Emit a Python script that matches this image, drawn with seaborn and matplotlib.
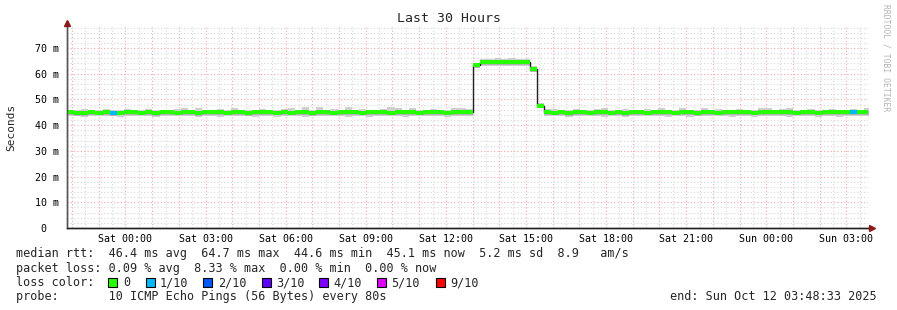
import numpy as np
import pandas as pd
import matplotlib
matplotlib.use("Agg")
import matplotlib.pyplot as plt
import seaborn as sns
from matplotlib.patches import Rectangle

# ---------------- data ----------------
start_hour = -2.19          # Fri 21:48:33 relative to Sat 00:00
bin_minutes = 16

median_rtt = [
    45.0, 44.8, 44.7, 45.0, 44.9, 45.1, 44.7, 44.9, 45.0, 45.1,
    44.9, 45.0, 44.8, 45.0, 45.1, 44.9, 45.0, 45.0, 44.8, 45.0,
    45.1, 45.0, 44.9, 45.0, 45.0, 44.8, 45.0, 45.1, 45.0, 44.9,
    45.0, 44.9, 45.1, 45.0, 44.8, 45.0, 45.0, 44.9, 45.1, 45.0,
    45.0, 44.9, 45.0, 45.1, 45.0, 44.9, 45.0, 45.0, 45.1, 44.9,
    45.0, 45.1, 45.0, 44.9, 45.0, 45.0, 45.2, 63.4, 64.4, 64.6,
    64.5, 64.4, 64.7, 64.5, 64.5, 61.7, 47.6, 45.0, 44.9, 45.1,
    44.6, 45.0, 45.0, 44.9, 45.0, 45.1, 44.9, 45.0, 44.8, 45.0,
    45.0, 44.9, 45.1, 45.0, 45.0, 44.9, 45.0, 45.1, 44.8, 45.0,
    45.0, 44.9, 45.0, 45.1, 45.0, 45.0, 44.9, 45.0, 45.1, 45.0,
    45.0, 45.1, 44.9, 45.0, 45.0, 44.9, 45.0, 45.1, 45.0, 45.0,
    45.0, 45.1, 45.1,
]

smoke_hi = [
    46.1, 46.0, 46.4, 46.1, 46.1, 46.3, 46.0, 46.1, 46.2, 46.1,
    46.1, 46.2, 46.1, 46.0, 46.1, 46.2, 46.8, 46.1, 46.7, 46.1,
    46.1, 46.2, 46.1, 46.7, 46.1, 46.0, 46.1, 46.2, 46.1, 46.1,
    46.2, 46.8, 46.1, 46.9, 46.1, 46.9, 46.1, 46.2, 46.1, 47.1,
    46.1, 46.2, 46.1, 46.1, 46.2, 46.9, 46.7, 46.1, 46.7, 46.1,
    46.1, 46.2, 46.1, 46.1, 46.6, 46.5, 46.2, 64.3, 65.9, 65.7,
    66.1, 65.8, 66.1, 65.9, 65.8, 63.0, 48.7, 46.2, 46.3, 46.1,
    46.1, 46.2, 46.1, 46.1, 46.2, 46.7, 46.1, 46.1, 46.2, 46.1,
    46.1, 46.2, 46.1, 46.7, 46.1, 46.1, 46.5, 46.1, 46.1, 46.6,
    46.1, 46.2, 46.1, 46.1, 46.2, 46.1, 46.1, 46.8, 46.6, 46.1,
    46.2, 46.5, 46.1, 46.1, 46.2, 46.1, 46.1, 46.2, 46.1, 46.1,
    46.2, 46.1, 46.5,
]

smoke_lo = [
    43.6, 43.5, 43.2, 43.7, 43.6, 43.6, 43.7, 43.3, 43.6, 43.6,
    43.5, 43.6, 43.2, 43.6, 43.6, 43.5, 43.6, 43.6, 43.3, 43.6,
    43.6, 43.3, 43.6, 43.6, 43.6, 43.5, 43.2, 43.6, 43.6, 43.3,
    43.6, 43.5, 43.6, 43.2, 43.6, 43.6, 43.5, 43.6, 43.6, 43.3,
    43.6, 43.5, 43.2, 43.6, 43.6, 43.5, 43.6, 43.3, 43.6, 43.6,
    43.5, 43.6, 43.6, 43.3, 43.6, 43.6, 43.7, 62.2, 63.1, 62.9,
    63.1, 63.2, 63.0, 63.1, 63.2, 60.5, 46.5, 43.6, 43.4, 43.6,
    43.2, 43.6, 43.5, 43.6, 43.6, 43.3, 43.6, 43.6, 43.2, 43.6,
    43.6, 43.4, 43.6, 43.6, 43.2, 43.6, 43.6, 43.3, 43.6, 43.6,
    43.5, 43.6, 43.6, 43.3, 43.6, 43.6, 43.2, 43.6, 43.6, 43.5,
    43.6, 43.2, 43.6, 43.6, 43.6, 43.3, 43.6, 43.6, 43.2, 43.6,
    43.6, 43.5, 43.4,
]

loss_bins = [6, 110]          # bins with packet loss
loss_bin_tenths = [1, 1]

loss_labels = ["0", "1/10", "2/10", "3/10", "4/10", "5/10", "9/10"]
loss_colors = ["#26ff00", "#00b8ff", "#0059ff", "#5e00ff", "#7e00ff", "#dd00ff", "#ff0000"]

xtick_hours = [0, 3, 6, 9, 12, 15, 18, 21, 24, 27]
xtick_labels = ["Sat 00:00", "Sat 03:00", "Sat 06:00", "Sat 09:00", "Sat 12:00",
                "Sat 15:00", "Sat 18:00", "Sat 21:00", "Sun 00:00", "Sun 03:00"]
ytick_values = [0, 10, 20, 30, 40, 50, 60, 70]
ytick_labels = ["0  ", "10 m", "20 m", "30 m", "40 m", "50 m", "60 m", "70 m"]

title = "Last 30 Hours"
ylabel = "Seconds"
line_rtt = "median rtt:  46.4 ms avg  64.7 ms max  44.6 ms min  45.1 ms now  5.2 ms sd  8.9   am/s"
line_loss = "packet loss: 0.09 % avg  8.33 % max  0.00 % min  0.00 % now"
line_probe = "probe:       10 ICMP Echo Pings (56 Bytes) every 80s"
line_end = "end: Sun Oct 12 03:48:33 2025"
watermark = "RRDTOOL / TOBI OETIKER"

# ---------------- figure ----------------
sns.set_theme(style="white")
plt.rcParams["font.family"] = ["DejaVu Sans Mono", "DejaVu Sans"]

W, H = 897, 310
fig = plt.figure(figsize=(W / 100, H / 100), dpi=100)
fig.patch.set_facecolor("white")
ax = fig.add_axes([67 / W, 1 - 228 / H, 801 / W, 201 / H])
ax.set_facecolor("white")

xmin, xmax = start_hour, start_hour + 30
ymax = 78.2
ax.set_xlim(xmin, xmax)
ax.set_ylim(0, ymax)

# grid (dotted, RRD style)
dot = (0, (1, 2))
for hh in np.arange(np.ceil(xmin * 2) / 2, xmax, 0.5):
    major = float(hh).is_integer()
    ax.axvline(hh, color="#f2a6a6" if major else "#d6d6d6", lw=0.8, ls=dot, zorder=0)
for yy in range(2, int(ymax) + 1, 2):
    major = yy % 10 == 0
    ax.axhline(yy, color="#f2a6a6" if major else "#d6d6d6", lw=0.8, ls=dot, zorder=0)

n = len(median_rtt)
step = bin_minutes / 60
edges = start_hour + np.arange(n + 1) * step
starts, ends = edges[:-1], edges[1:]
med = np.array(median_rtt)

# smoke
lo = np.append(smoke_lo, smoke_lo[-1])
hi = np.append(smoke_hi, smoke_hi[-1])
m_ext = np.append(med, med[-1])
ax.fill_between(edges, lo, hi, step="post", color="#cfcfcf", lw=0, zorder=1)
ax.fill_between(edges, np.maximum(lo, m_ext - 1.1), m_ext + 0.45, step="post",
                color="#b3b3b3", lw=0, zorder=1.5)

# median line (dark step) via seaborn
df = pd.DataFrame({"t": edges, "rtt": m_ext})
sns.lineplot(data=df, x="t", y="rtt", drawstyle="steps-post", color="#202020",
             lw=1.0, estimator=None, errorbar=None, ax=ax, zorder=2)

# loss-coloured median segments
seg_colors = [loss_colors[0]] * n
for b, l in zip(loss_bins, loss_bin_tenths):
    seg_colors[b] = loss_colors[l]
ax.hlines(med, starts, ends, colors=seg_colors, lw=2.9, zorder=3)

# axes styling
for s in ["top", "right"]:
    ax.spines[s].set_visible(False)
ax.spines["left"].set_color("#555555")
ax.spines["bottom"].set_color("#222222")
ax.spines["left"].set_linewidth(1.0)
ax.spines["bottom"].set_linewidth(1.0)
ax.set_xticks(xtick_hours, xtick_labels)
ax.set_yticks(ytick_values, ytick_labels)
ax.set_xticks(np.arange(np.ceil(xmin), xmax, 1.0), minor=True)
ax.tick_params(axis="x", which="major", length=2, color="#e08080", labelsize=7.2, pad=2,
               labelcolor="#000000")
ax.tick_params(axis="x", which="minor", length=2, color="#e08080")
ax.tick_params(axis="y", which="major", length=3, color="#555555", labelsize=7.2, pad=3,
               labelcolor="#000000")
ax.set_xlabel("")
ax.set_ylabel("")

# axis extensions and arrows
ax.plot([0, 0], [0, 1.02], transform=ax.transAxes, color="#555555", lw=1.0, clip_on=False, zorder=4)
ax.plot([0, 1.003], [0, 0], transform=ax.transAxes, color="#222222", lw=1.0, clip_on=False, zorder=4)
ax.plot([0], [1.018], marker="^", ms=4.5, color="#8b1a1a", transform=ax.transAxes,
        clip_on=False, zorder=5)
ax.plot([1.005], [0], marker=">", ms=4.5, color="#8b1a1a", transform=ax.transAxes,
        clip_on=False, zorder=5)

# texts
fig.text(0.5, 1 - 19 / H, title, ha="center", va="center", fontsize=9.5)
fig.text(11 / W, 1 - 127 / H, ylabel, rotation=90, ha="center", va="center", fontsize=8)
fig.text(886 / W, 1 - 4 / H, watermark, rotation=270, ha="center", va="top",
         fontsize=5.8, color="#b4b4b4")

fs = 8.5
fig.text(16 / W, 1 - 254 / H, line_rtt, ha="left", va="center", fontsize=fs)
fig.text(16 / W, 1 - 268.5 / H, line_loss, ha="left", va="center", fontsize=fs)
fig.text(16 / W, 1 - 282.5 / H, "loss color:", ha="left", va="center", fontsize=fs)
box_x = [108, 146, 203, 262, 319, 377, 436]
lab_x = [123, 160, 218, 276, 333, 391, 450]
for bx, lx, lab, col in zip(box_x, lab_x, loss_labels, loss_colors):
    fig.patches.append(Rectangle((bx / W, 1 - 287 / H), 9 / W, 9 / H, transform=fig.transFigure,
                                 facecolor=col, edgecolor="black", lw=0.8))
    fig.text(lx / W, 1 - 282.5 / H, lab, ha="left", va="center", fontsize=fs)
fig.text(16 / W, 1 - 296.5 / H, line_probe, ha="left", va="center", fontsize=fs)
fig.text(877 / W, 1 - 296.5 / H, line_end, ha="right", va="center", fontsize=fs)

fig.savefig("out.png", dpi=100)
